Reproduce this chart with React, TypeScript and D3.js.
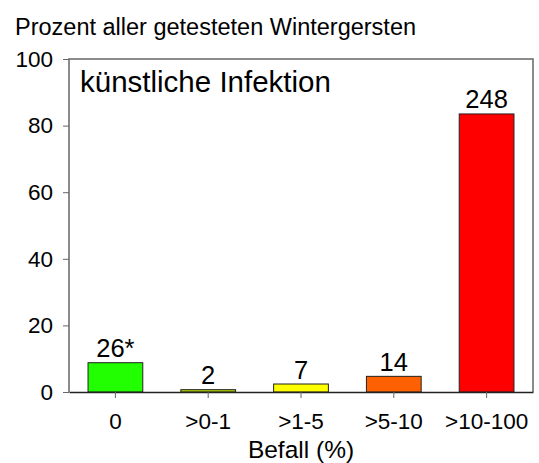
import React, { useEffect, useRef } from 'react';
import * as d3 from 'd3';

// Befall-Klassen und Werte
const categories = ['0', '>0-1', '>1-5', '>5-10', '>10-100'];
const percents = [8.8, 0.7, 2.4, 4.7, 83.5];
const countLabels = ['26*', '2', '7', '14', '248'];
const yTicks = [0, 20, 40, 60, 80, 100];

const barColors = ['#22ff00', '#b0d400', '#ffff00', '#ff6000', '#ff0000'];
const FONT = '"Liberation Sans", Arial, sans-serif';

const App = () => {
  const ref = useRef<SVGSVGElement>(null);

  useEffect(() => {
    const width = 539;
    const height = 463;
    const margin = { top: 59, right: 6, bottom: 71, left: 69 };

    const svg = d3.select(ref.current);
    svg.selectAll('*').remove();
    svg.attr('width', width).attr('height', height);

    const x = d3
      .scaleBand()
      .domain(categories)
      .range([margin.left, width - margin.right])
      .paddingInner(0.41)
      .paddingOuter(0.205);

    const y = d3
      .scaleLinear()
      .domain([0, 100])
      .range([height - margin.bottom, margin.top]);

    // title
    svg
      .append('text')
      .attr('x', 15)
      .attr('y', 35)
      .attr('font-family', FONT)
      .attr('font-size', 23.5)
      .text('Prozent aller getesteten Wintergersten');

    // frame
    svg
      .append('path')
      .attr(
        'd',
        `M${margin.left},${y(0)}V${y(100)}H${width - margin.right}V${y(0)}`
      )
      .attr('fill', 'none')
      .attr('stroke', '#666')
      .attr('stroke-width', 1.5);

    // bars
    svg
      .selectAll('rect.bar')
      .data(percents)
      .enter()
      .append('rect')
      .attr('class', 'bar')
      .attr('x', (_, i) => x(categories[i]))
      .attr('y', d => y(d))
      .attr('width', x.bandwidth())
      .attr('height', d => y(0) - y(d))
      .attr('fill', (_, i) => barColors[i])
      .attr('stroke', '#222')
      .attr('stroke-width', 1);

    // bar labels
    svg
      .selectAll('text.lbl')
      .data(percents)
      .enter()
      .append('text')
      .attr('class', 'lbl')
      .attr('x', (_, i) => x(categories[i]) + x.bandwidth() / 2)
      .attr('y', d => y(d) - 5.5)
      .attr('text-anchor', 'middle')
      .attr('font-family', FONT)
      .attr('font-size', 25.5)
      .text((_, i) => countLabels[i]);

    // y axis
    const yAxis = svg
      .append('g')
      .attr('transform', `translate(${margin.left},0)`)
      .call(d3.axisLeft(y).tickValues(yTicks).tickSize(6).tickPadding(10));
    yAxis.select('.domain').remove();
    yAxis.selectAll('line').attr('stroke', '#666');
    yAxis
      .selectAll('text')
      .attr('font-family', FONT)
      .attr('font-size', 22.5)
      .attr('fill', '#000');

    // x axis
    const xAxis = svg
      .append('g')
      .attr('transform', `translate(0,${y(0)})`)
      .call(d3.axisBottom(x).tickSize(6).tickPadding(15).tickSizeOuter(0));
    xAxis.select('.domain').attr('stroke', '#222').attr('stroke-width', 1.5);
    xAxis.selectAll('line').attr('stroke', '#666');
    xAxis
      .selectAll('text')
      .attr('font-family', FONT)
      .attr('font-size', 22.5)
      .attr('fill', '#000');

    // axis title
    svg
      .append('text')
      .attr('x', (margin.left + width - margin.right) / 2)
      .attr('y', 457.5)
      .attr('text-anchor', 'middle')
      .attr('font-family', FONT)
      .attr('font-size', 24.5)
      .text('Befall (%)');

    // inner label
    svg
      .append('text')
      .attr('x', 80)
      .attr('y', 92)
      .attr('font-family', FONT)
      .attr('font-size', 29.5)
      .text('künstliche Infektion');
  }, []);

  return (
    <div>
      <svg ref={ref} style={{ position: 'absolute', left: 0, top: 0 }}></svg>
    </div>
  );
};

export default App;
